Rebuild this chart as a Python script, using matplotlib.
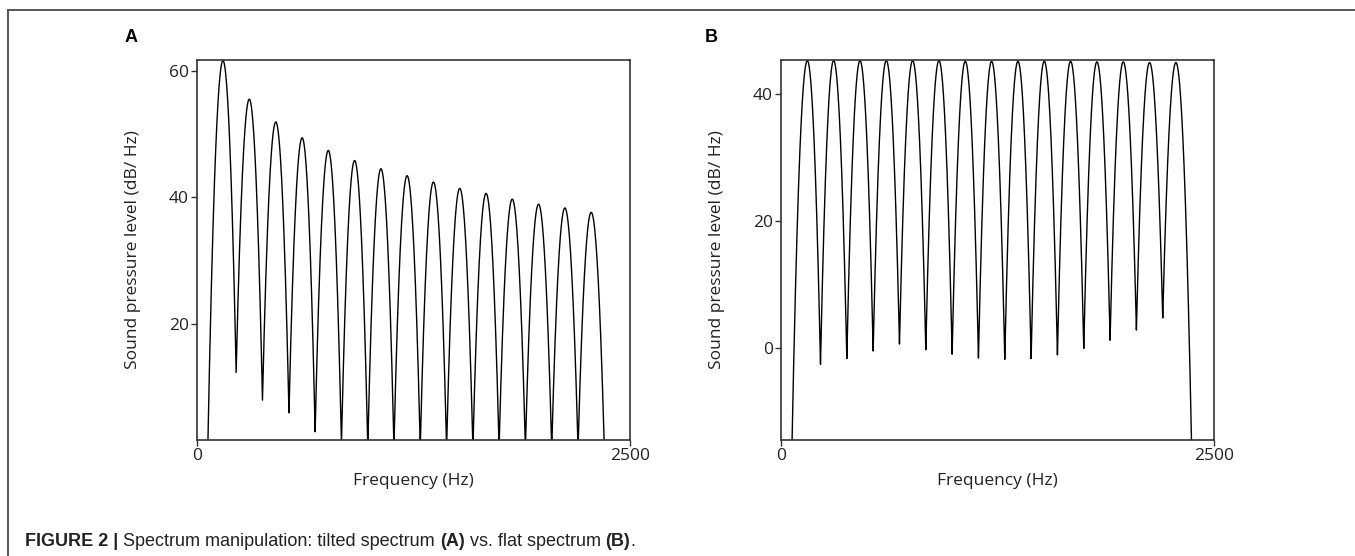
import numpy as np
import matplotlib
matplotlib.use("Agg")
import matplotlib.pyplot as plt
from matplotlib import font_manager

# ---------------- data ----------------
freq_min, freq_max = 0, 2500
x_ticks = [0, 2500]

# Panel A (tilted spectrum)
peak_freq_A = [150, 302, 455, 607, 758, 910, 1062, 1213, 1365, 1517, 1669, 1820, 1972, 2124, 2276]
peak_db_A = [61.6, 55.5, 51.9, 49.4, 47.4, 45.8, 44.5, 43.4, 42.4, 41.4, 40.6, 39.7, 38.9, 38.3, 37.6]
# troughs: outer edges + 14 inner dips
trough_freq_A = [62, 226, 378, 531, 682, 834, 986, 1137, 1289, 1441, 1593, 1744, 1896, 2048, 2200, 2352]
trough_db_A = [0.0, 12.3, 7.9, 5.9, 2.9, 1.0, 0.5, 0.5, 0.4, 0.4, 0.3, 0.3, 0.3, 0.2, 0.2, 0.0]
ylim_A = (1.6, 61.7)
y_ticks_A = [20, 40, 60]

# Panel B (flat spectrum)
peak_freq_B = [152, 304, 456, 608, 760, 912, 1064, 1216, 1368, 1520, 1672, 1824, 1976, 2128, 2280]
peak_db_B = [45.3, 45.3, 45.3, 45.3, 45.3, 45.3, 45.2, 45.2, 45.2, 45.2, 45.2, 45.1, 45.1, 45.0, 45.0]
trough_freq_B = [62, 228, 380, 532, 684, 836, 988, 1140, 1292, 1444, 1596, 1748, 1900, 2052, 2204, 2372]
trough_db_B = [-17.0, -2.5, -1.6, -0.4, 0.7, -0.2, -0.9, -1.5, -1.7, -1.6, -1.0, 0.0, 1.3, 2.9, 4.8, -17.0]
ylim_B = (-14.4, 45.4)
y_ticks_B = [0, 20, 40]

caption_bold = "FIGURE 2 |"
caption_text = " Spectrum manipulation: tilted spectrum "
ylabel = "Sound pressure level (dB/ Hz)"
xlabel = "Frequency (Hz)"

# ---------------- fonts ----------------
avail = {f.name for f in font_manager.fontManager.ttflist}
axis_font = "Open Sans" if "Open Sans" in avail else "DejaVu Sans"
cap_font = "Liberation Sans Narrow" if "Liberation Sans Narrow" in avail else "Liberation Sans"


def lobe_curve(pf, pdb, tf, tdb, n=60):
    """Join read peaks and troughs with rounded (parabolic-in-dB) lobes."""
    xs, ys = [], []
    for i in range(len(pf)):
        t = np.linspace(0, 1, n)
        f = tf[i] + (pf[i] - tf[i]) * t
        u = (pf[i] - f) / (pf[i] - tf[i])
        xs.append(f)
        ys.append(pdb[i] - (pdb[i] - tdb[i]) * u ** 2)
        f = pf[i] + (tf[i + 1] - pf[i]) * t
        u = (f - pf[i]) / (tf[i + 1] - pf[i])
        xs.append(f)
        ys.append(pdb[i] - (pdb[i] - tdb[i + 1]) * u ** 2)
    return np.concatenate(xs), np.concatenate(ys)


W, H = 1355, 556
fig = plt.figure(figsize=(W / 100, H / 100), dpi=100)

# outer frame (left + top rule)
fig.add_artist(plt.Line2D([8 / W, 8 / W], [0, 1 - 10 / H], color="#555555", lw=1.4,
                          transform=fig.transFigure))
fig.add_artist(plt.Line2D([8 / W, 1], [1 - 10 / H, 1 - 10 / H], color="#555555", lw=1.4,
                          transform=fig.transFigure))

panels = [
    ("A", 197, peak_freq_A, peak_db_A, trough_freq_A, trough_db_A, ylim_A, y_ticks_A, 131),
    ("B", 781, peak_freq_B, peak_db_B, trough_freq_B, trough_db_B, ylim_B, y_ticks_B, 711),
]

for label, left_px, pf, pdb, tf, tdb, ylim, yt, lab_x in panels:
    ax = fig.add_axes([left_px / W, 1 - 440 / H, 433 / W, 380 / H])
    x, y = lobe_curve(pf, pdb, tf, tdb)
    ax.plot(x, y, color="black", lw=1.0)
    ax.set_xlim(freq_min, freq_max)
    ax.set_ylim(*ylim)
    ax.set_xticks(x_ticks)
    ax.set_xticklabels([str(v) for v in x_ticks])
    ax.set_yticks(yt)
    ax.set_yticklabels([str(v) for v in yt])
    for s in ax.spines.values():
        s.set_color("#333333")
        s.set_linewidth(1.2)
    ax.tick_params(axis="both", direction="out", length=4, width=1.0, color="#333333",
                   labelsize=12.5, pad=2, labelcolor="#222222")
    for t in ax.get_xticklabels() + ax.get_yticklabels():
        t.set_fontfamily(axis_font)
    ax.set_xlabel(xlabel, fontsize=12.5, fontfamily=axis_font, color="#222222", labelpad=6)
    ax.set_ylabel(ylabel, fontsize=12.5, fontfamily=axis_font, color="#222222", labelpad=20)
    fig.text(lab_x / W, 1 - 38 / H, label, fontsize=13, fontweight="bold",
             fontfamily="Liberation Sans", ha="center", va="center")

# caption
cap_size = 13
t1 = fig.text(25 / W, 1 - 542 / H, caption_bold, fontsize=cap_size, fontweight="bold",
              fontfamily=cap_font, ha="left", va="center", color="#222222")
fig.canvas.draw()
r = fig.canvas.get_renderer()
bb = t1.get_window_extent(r)
x0 = bb.x1 / W
parts = [(caption_text, "normal"), ("(A)", "bold"), (" vs. flat spectrum ", "normal"),
         ("(B)", "bold"), (".", "normal")]
for txt, wgt in parts:
    t = fig.text(x0, 1 - 542 / H, txt, fontsize=cap_size, fontweight=wgt, fontfamily=cap_font,
                 ha="left", va="center", color="#222222")
    fig.canvas.draw()
    x0 = t.get_window_extent(r).x1 / W

fig.savefig("out.png", dpi=100)
